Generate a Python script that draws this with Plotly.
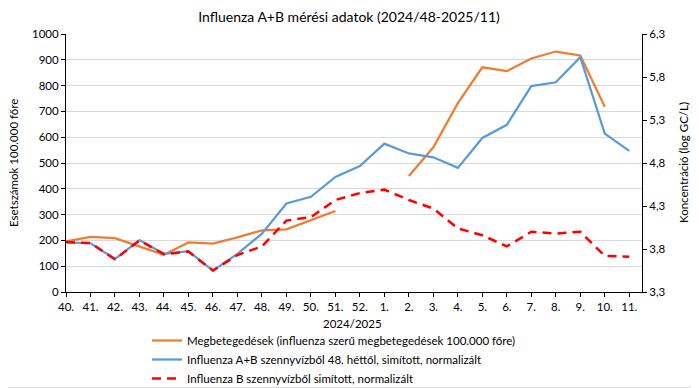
import plotly.graph_objects as go

weeks = ["40.", "41.", "42.", "43.", "44.", "45.", "46.", "47.", "48.", "49.", "50.", "51.", "52.",
         "1.", "2.", "3.", "4.", "5.", "6.", "7.", "8.", "9.", "10.", "11."]

megbetegedesek = [196, 214, 209, 178, 144, 192, 188, 212, 239, 243, 280, 314, None,
                  None, 450, 561, 732, 871, 856, 905, 932, 917, 718, None]

influenza_ab = [192, 189, 128, 201, 148, 158, 83, 148, 226, 343, 369, 446, 488,
                575, 537, 522, 481, 597, 648, 798, 813, 910, 614, 547]

influenza_b = [3.88, 3.87, 3.68, 3.90, 3.74, 3.77, 3.55, 3.73, 3.83, 4.13, 4.17, 4.37, 4.45,
               4.49, 4.37, 4.27, 4.04, 3.96, 3.83, 4.00, 3.98, 4.00, 3.72, 3.71]

left_ticks = [0, 100, 200, 300, 400, 500, 600, 700, 800, 900, 1000]
right_ticks = [3.3, 3.8, 4.3, 4.8, 5.3, 5.8, 6.3]
right_tick_text = ["3,3", "3,8", "4,3", "4,8", "5,3", "5,8", "6,3"]

names = ["Megbetegedések (influenza szerű megbetegedések 100.000 főre)",
         "Influenza A+B szennyvízből 48. héttől, simított, normalizált",
         "Influenza B szennyvízből simított, normalizált"]

FONT = "Lato"
xs = list(range(len(weeks)))

# the page body has an 8px margin; figure is placed at (8, 8)
OFF = 8
W, H = 699 - OFF, 388 - OFF
# plot area in page pixels
PL, PR, PT, PB = 66, 642, 34, 292
L, R, T, B = PL - OFF, W - (PR - OFF), PT - OFF, H - (PB - OFF)
PW = PR - PL
PH = PB - PT


def px(x):
    return (x - PL) / PW


def py(y):
    return (PB - y) / PH


fig = go.Figure()
fig.add_trace(go.Scatter(x=xs, y=megbetegedesek, name=names[0], mode="lines",
                         line=dict(color="#ED7D31", width=2.25), connectgaps=False))
fig.add_trace(go.Scatter(x=xs, y=influenza_ab, name=names[1], mode="lines",
                         line=dict(color="#5B9BD5", width=2.25)))
fig.add_trace(go.Scatter(x=xs, y=influenza_b, name=names[2], mode="lines", yaxis="y2",
                         line=dict(color="#FF0000", width=2.5, dash="9px,6px")))

fig.update_layout(
    width=W, height=H,
    margin=dict(l=L, r=R, t=T, b=B, autoexpand=False),
    paper_bgcolor="white", plot_bgcolor="white",
    font=dict(family=FONT, size=11.5, color="#000000"),
    title=dict(text="Influenza A+B mérési adatok (2024/48-2025/11)", x=px(349), xref="paper",
               xanchor="center", y=1 - (17 - OFF) / H, yanchor="middle",
               font=dict(family=FONT, size=14, color="#000000")),
    xaxis=dict(range=[0, 23.52], tickvals=xs, ticktext=weeks, showgrid=False, zeroline=False,
               showline=True, linecolor="#000000", linewidth=1, ticks="outside", ticklen=4,
               tickcolor="#000000", tickfont=dict(size=11.5), fixedrange=True),
    yaxis=dict(range=[0, 1000], tickvals=left_ticks, showgrid=True, gridcolor="#D9D9D9",
               gridwidth=1, zeroline=False, showline=True, linecolor="#000000", linewidth=1,
               ticks="outside", ticklen=4, tickcolor="#000000", tickfont=dict(size=11.5)),
    yaxis2=dict(range=[3.3, 6.3], tickvals=right_ticks, ticktext=right_tick_text, overlaying="y",
                side="right", showgrid=False, zeroline=False, showline=True, linecolor="#000000",
                linewidth=1, ticks="outside", ticklen=4, tickcolor="#000000",
                tickfont=dict(size=11.5)),
    legend=dict(x=px(147), y=py(326), xanchor="left", yanchor="top",
                font=dict(size=11.5), bgcolor="rgba(0,0,0,0)", tracegroupgap=0,
                itemwidth=30),
    showlegend=True,
    annotations=[
        dict(text="Esetszámok 100.000 főre", xref="paper", yref="paper",
             x=px(13), y=py(163), textangle=-90, showarrow=False,
             xanchor="center", yanchor="middle", font=dict(size=11.5)),
        dict(text="Koncentráció (log GC/L)", xref="paper", yref="paper",
             x=px(683), y=py(163), textangle=-90, showarrow=False,
             xanchor="center", yanchor="middle", font=dict(size=11.5)),
        dict(text="2024/2025", xref="paper", yref="paper",
             x=px(352), y=py(323), showarrow=False,
             xanchor="center", yanchor="middle", font=dict(size=11.5)),
    ],
    shapes=[
        dict(type="line", xref="paper", yref="paper",
             x0=px(698.5), x1=px(698.5), y0=py(387.5), y1=py(OFF),
             line=dict(color="#D9D9D9", width=1), layer="below"),
        dict(type="line", xref="paper", yref="paper",
             x0=px(OFF), x1=px(698.5), y0=py(387.5), y1=py(387.5),
             line=dict(color="#D9D9D9", width=1), layer="below"),
    ],
)

fig.write_html("out.html")
